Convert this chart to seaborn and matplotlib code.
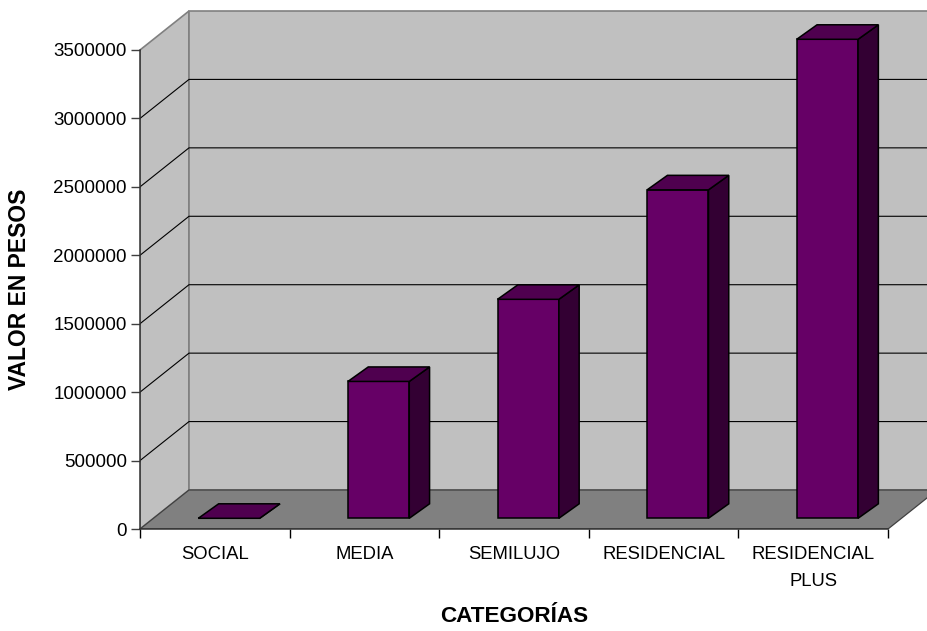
import matplotlib
matplotlib.use("Agg")
import matplotlib.pyplot as plt
from matplotlib.patches import Polygon
import seaborn as sns
import pandas as pd

categorias = ["SOCIAL", "MEDIA", "SEMILUJO", "RESIDENCIAL", "RESIDENCIAL\nPLUS"]
valores = [0, 1000000, 1600000, 2400000, 3500000]
yticks = [0, 500000, 1000000, 1500000, 2000000, 2500000, 3000000, 3500000]
ylabel = "VALOR EN PESOS"
xlabel = "CATEGORÍAS"

sns.set_style("white")
plt.rcParams["font.family"] = ["Liberation Sans", "DejaVu Sans"]
plt.rcParams["text.color"] = "black"
plt.rcParams["axes.labelcolor"] = "black"
plt.rcParams["xtick.color"] = "black"
plt.rcParams["ytick.color"] = "black"

W, H = 927, 631
fig = plt.figure(figsize=(W / 100, H / 100), dpi=100)
ax_l, ax_r, ax_t, ax_b = 140, 927, 10, 529
ax = fig.add_axes([ax_l / W, (H - ax_b) / H, (ax_r - ax_l) / W, (ax_b - ax_t) / H])

px_x = 149.6                 # pixels per category
px_y = 68.43 / 500000        # pixels per value unit
YMAX = (ax_b - ax_t) / px_y
XMIN = -0.5
XMAX = XMIN + (ax_r - ax_l) / px_x

# depth offsets (in data units) for the 3D look
DX, DY = 49 / px_x, 39 / px_y          # full depth of floor
FX, FY = 14.2 / px_x, 10.7 / px_y      # bar front face offset
BDX, BDY = 20.3 / px_x, 14.5 / px_y    # bar depth

df = pd.DataFrame({"cat": categorias, "val": valores})
sns.barplot(data=df, x="cat", y="val", color="#660066", width=0.41,
            edgecolor="black", linewidth=1.1, ax=ax, zorder=3, saturation=1)

ax.set_xlim(XMIN, XMAX)
ax.set_ylim(0, YMAX)

top_y = yticks[-1]
# walls and floor
wall_c, edge_c = "#c0c0c0", "#808080"
ax.add_patch(Polygon([(XMIN, 0), (XMIN, top_y), (XMIN + DX, top_y + DY), (XMIN + DX, DY)],
                     closed=True, facecolor=wall_c, edgecolor=edge_c, lw=1.2, zorder=0))
ax.add_patch(Polygon([(XMIN + DX, DY), (XMAX + 1, DY), (XMAX + 1, top_y + DY), (XMIN + DX, top_y + DY)],
                     closed=True, facecolor=wall_c, edgecolor=edge_c, lw=1.2, zorder=0))
n = len(categorias)
ax.add_patch(Polygon([(XMIN, 0), (XMIN + n, 0), (XMIN + n + DX, DY), (XMIN + DX, DY)],
                     closed=True, facecolor="#808080", edgecolor="#404040", lw=0.9, zorder=1))
# gridlines
for v in yticks[1:-1]:
    ax.plot([XMIN, XMIN + DX, XMAX + 1], [v, v + DY, v + DY], color="black", lw=0.8, zorder=0.5)

# 3D bars: shift front faces and add side/top faces
for p in list(ax.patches):
    if p.get_zorder() != 3:
        continue
    x0 = p.get_x() + FX
    w = p.get_width()
    h = p.get_height()
    p.set_x(x0)
    p.set_y(FY)
    y0, y1 = FY, FY + h
    side = Polygon([(x0 + w, y0), (x0 + w + BDX, y0 + BDY), (x0 + w + BDX, y1 + BDY), (x0 + w, y1)],
                   closed=True, facecolor="#330033", edgecolor="black", lw=1.1, zorder=3)
    top = Polygon([(x0, y1), (x0 + w, y1), (x0 + w + BDX, y1 + BDY), (x0 + BDX, y1 + BDY)],
                  closed=True, facecolor="#4f004f", edgecolor="black", lw=1.1, zorder=3)
    ax.add_patch(side)
    ax.add_patch(top)

# axes styling
for s in ["top", "right"]:
    ax.spines[s].set_visible(False)
ax.spines["left"].set_bounds(0, top_y)
ax.spines["bottom"].set_bounds(XMIN, XMIN + n)
for s in ["left", "bottom"]:
    ax.spines[s].set_color("#303030")
    ax.spines[s].set_linewidth(1.1)
    ax.spines[s].set_zorder(2)

ax.set_yticks(yticks)
ax.set_yticklabels([str(v) for v in yticks])
ax.tick_params(axis="y", direction="out", length=6.5, width=1, color="#404040",
               pad=3, labelsize=13.5, left=True, labelcolor="black")
ax.set_xticks(range(n))
ax.set_xticklabels(categorias, linespacing=1.75)
ax.set_xticks([XMIN + i for i in range(n + 1)], minor=True)
ax.tick_params(axis="x", which="major", length=0, pad=12.5, labelsize=13.3, labelcolor="black")
ax.tick_params(axis="x", which="minor", direction="out", length=6.5, width=1,
               color="black", bottom=True)

ax.set_ylabel(ylabel, fontsize=16.5, fontweight="bold", color="black")
ax.yaxis.set_label_coords((31 - ax_l) / (ax_r - ax_l), (ax_b - 289) / (ax_b - ax_t))
ax.set_xlabel(xlabel, fontsize=16.2, fontweight="bold", color="black")
ax.xaxis.set_label_coords((514 - ax_l) / (ax_r - ax_l), (ax_b - 606) / (ax_b - ax_t))

fig.savefig("out.png", dpi=100)
